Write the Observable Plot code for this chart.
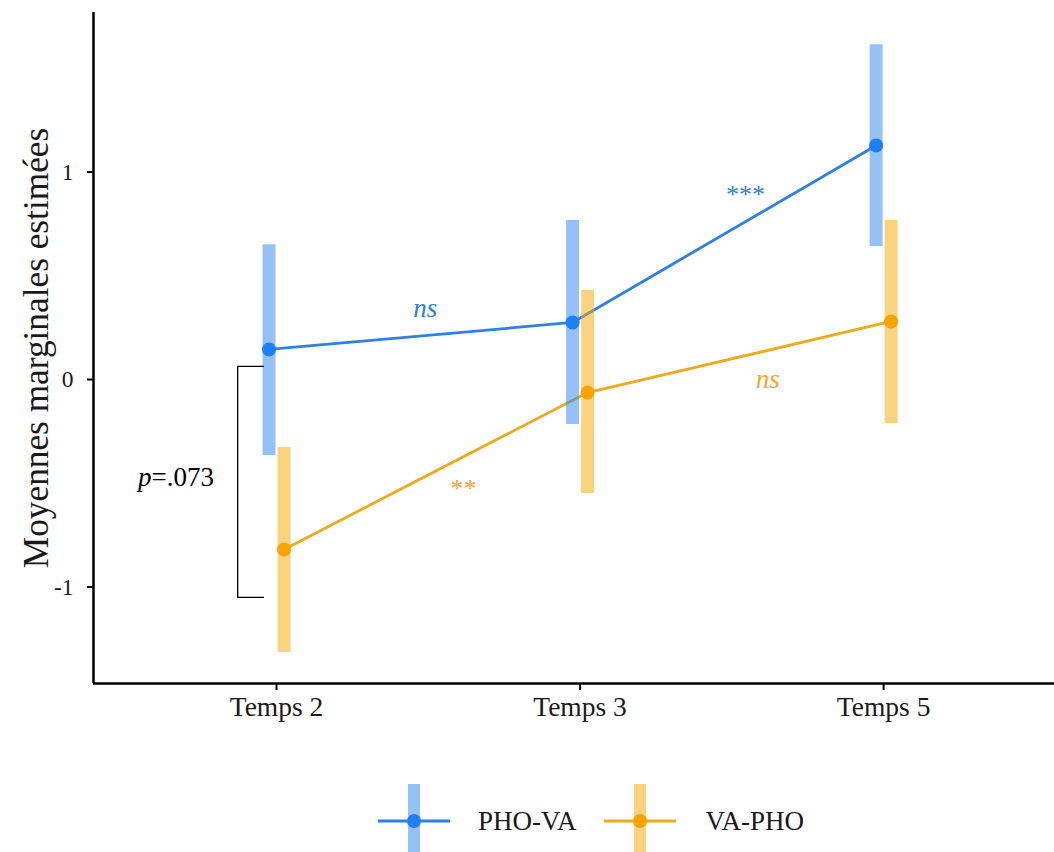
<!DOCTYPE html>
<html><head><meta charset="utf-8">
<script src="https://cdn.jsdelivr.net/npm/d3@7"></script>
<script src="https://cdn.jsdelivr.net/npm/@observablehq/plot@0.6"></script>
<style>
body{margin:0;background:#fff;font-family:"Liberation Serif","Times New Roman",serif;}
#wrap{position:relative;width:1054px;height:852px;overflow:hidden;background:#fff}
#legend{position:absolute;left:378px;top:784px;display:flex;align-items:flex-start;color:#1a1a1a;font-size:27px}
#legend .item{display:flex;align-items:flex-start}
#legend .lab{margin-top:20px;line-height:34px}
</style></head><body>
<div id="wrap"><div id="chart"></div><div id="legend"></div></div>
<script>
// ---- data ----
const times = ["Temps 2", "Temps 3", "Temps 5"];
const groups = ["PHO-VA", "VA-PHO"];
const phoMean = [0.145, 0.275, 1.128];
const phoLow  = [-0.366, -0.217, 0.641];
const phoHigh = [0.650, 0.766, 1.614];
const vaMean  = [-0.819, -0.063, 0.280];
const vaLow   = [-1.316, -0.549, -0.212];
const vaHigh  = [-0.328, 0.429, 0.766];
const yTicks = [-1, 0, 1];
const yTickLabels = ["-1", "0", "1"];
const yLabel = "Moyennes marginales estimées";
// significance annotations (x in category-index units, y in data units)
const annText  = ["ns", "***", "ns", "**"];
const annGroup = [0, 0, 1, 1];
const annX = [0.49, 1.545, 1.618, 0.616];
const annY = [0.345, 0.89, 0.0, -0.525];
const annItalic = [true, false, true, false];
// p-value bracket between groups at Temps 2
const bracketX = [-0.043, -0.128, -0.128, -0.043];
const bracketY = [0.063, 0.063, -1.05, -1.05];
const pLabelX = -0.412, pLabelY = -0.472;

// ---- styles ----
const lineColors = ["#2f80e4", "#ecaa1c"];
const barColors  = ["#2a84f2", "#f6a800"];
const dotColors  = ["#1f80f5", "#f7a400"];
const annColors  = ["#2a7fe0", "#f5a623"];
const dodge = [-7.5, 7.5];
const xDomain = [-0.603, 2.563];
const yDomain = [-1.465, 1.769];
const font = '"Liberation Serif", "Times New Roman", serif';

const series = [
  times.map((t, i) => ({i, t, m: phoMean[i], lo: phoLow[i], hi: phoHigh[i]})),
  times.map((t, i) => ({i, t, m: vaMean[i], lo: vaLow[i], hi: vaHigh[i]}))
];
const anns = annText.map((s, k) => ({s, g: annGroup[k], x: annX[k], y: annY[k], it: annItalic[k]}));
const bracket = bracketX.map((x, k) => ({x, y: bracketY[k]}));

const marks = [
  Plot.ruleX([xDomain[0]], {stroke: "#000", strokeWidth: 2.5}),
  Plot.ruleY([yDomain[0]], {stroke: "#000", strokeWidth: 2.5}),
  Plot.axisY({ticks: yTicks, tickFormat: d => yTickLabels[yTicks.indexOf(d)], tickSize: 6, tickPadding: 14,
    fontSize: 23.5, strokeWidth: 2, stroke: "#000", fill: "#1a1a1a", label: null}),
  Plot.axisX({ticks: [0, 1, 2], tickFormat: d => times[d], tickSize: 7, tickPadding: 6,
    fontSize: 27.5, strokeWidth: 2, stroke: "#000", fill: "#1a1a1a", label: null}),
  Plot.text([yLabel], {frameAnchor: "left", textAnchor: "middle", rotate: -90, dx: -57, fontSize: 35.3, fill: "#1a1a1a"})
];
series.forEach((d, g) => {
  marks.push(Plot.lineY(d, {x: "i", y: "m", stroke: lineColors[g], strokeWidth: 2.8, dx: dodge[g]}));
});
series.forEach((d, g) => {
  marks.push(Plot.ruleX(d, {x: "i", y1: "lo", y2: "hi", stroke: barColors[g], strokeOpacity: 0.5, strokeWidth: 13, dx: dodge[g]}));
});
series.forEach((d, g) => {
  marks.push(Plot.dot(d, {x: "i", y: "m", r: 7, fill: dotColors[g], stroke: "none", dx: dodge[g]}));
});
[true, false].forEach(it => {
  marks.push(Plot.text(anns.filter(a => a.it === it), {x: "x", y: "y", text: "s",
    fill: d => annColors[d.g], fontStyle: it ? "italic" : "normal", fontSize: it ? 27 : 26}));
});
marks.push(
  Plot.line(bracket, {x: "x", y: "y", stroke: "#000", strokeWidth: 1.3}),
  Plot.text(["p"], {x: pLabelX, y: pLabelY, textAnchor: "end", fontStyle: "italic", fontSize: 27, fill: "#000"}),
  Plot.text(["=.073"], {x: pLabelX, y: pLabelY, textAnchor: "start", fontSize: 27, fill: "#000"})
);

const chart = Plot.plot({
  width: 1054, height: 740,
  marginLeft: 93, marginRight: 0, marginTop: 12, marginBottom: 57,
  style: {fontFamily: font, background: "#fff", color: "#1a1a1a", overflow: "visible"},
  x: {type: "linear", domain: xDomain},
  y: {domain: yDomain},
  marks
});
document.getElementById("chart").appendChild(chart);

// ---- legend ----
const legend = document.getElementById("legend");
const gaps = [[0, 28], [27, 30]];
groups.forEach((name, g) => {
  const item = document.createElement("div");
  item.className = "item";
  item.style.marginLeft = gaps[g][0] + "px";
  const ns = "http://www.w3.org/2000/svg";
  const svg = document.createElementNS(ns, "svg");
  svg.setAttribute("width", 72); svg.setAttribute("height", 70);
  const bar = document.createElementNS(ns, "rect");
  bar.setAttribute("x", 30); bar.setAttribute("y", 0); bar.setAttribute("width", 12); bar.setAttribute("height", 70);
  bar.setAttribute("fill", barColors[g]); bar.setAttribute("fill-opacity", 0.5);
  const ln = document.createElementNS(ns, "line");
  ln.setAttribute("x1", 0); ln.setAttribute("x2", 72); ln.setAttribute("y1", 37); ln.setAttribute("y2", 37);
  ln.setAttribute("stroke", lineColors[g]); ln.setAttribute("stroke-width", 2.8);
  const dot = document.createElementNS(ns, "circle");
  dot.setAttribute("cx", 36); dot.setAttribute("cy", 37); dot.setAttribute("r", 7); dot.setAttribute("fill", dotColors[g]);
  svg.append(bar, ln, dot);
  const lab = document.createElement("span");
  lab.className = "lab";
  lab.style.marginLeft = gaps[g][1] + "px";
  lab.textContent = name;
  item.append(svg, lab);
  legend.appendChild(item);
});
</script>
</body></html>
